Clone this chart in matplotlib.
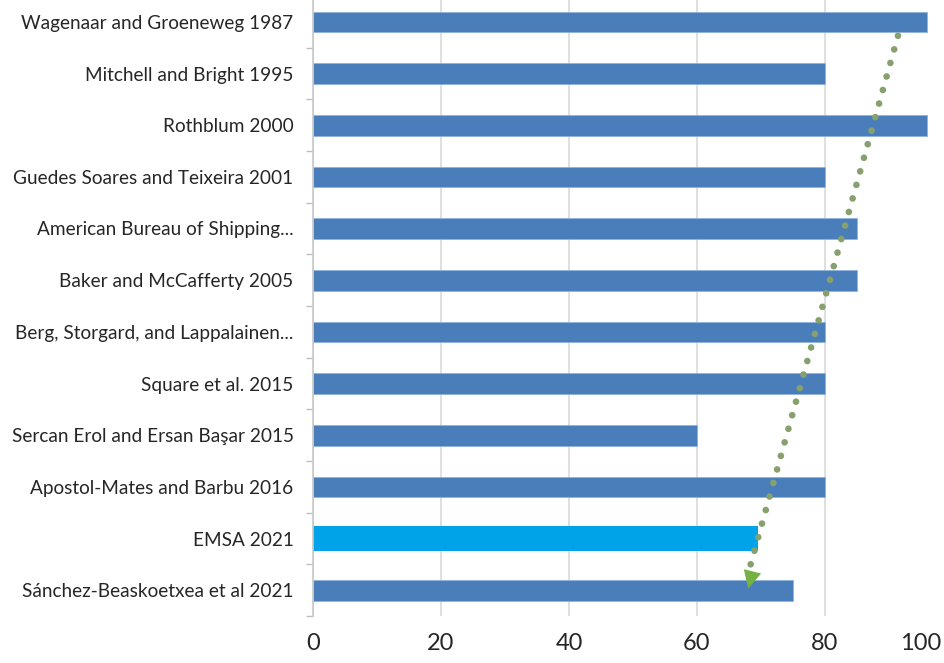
import numpy as np
import matplotlib
matplotlib.use("Agg")
import matplotlib.pyplot as plt
from matplotlib.ticker import FixedLocator
from matplotlib.transforms import ScaledTranslation

# studies, top to bottom
studies = [
    "Wagenaar and Groeneweg 1987",
    "Mitchell and Bright 1995",
    "Rothblum 2000",
    "Guedes Soares and Teixeira 2001",
    "American Bureau of Shipping...",
    "Baker and McCafferty 2005",
    "Berg, Storgard, and Lappalainen...",
    "Square et al. 2015",
    "Sercan Erol and Ersan Başar 2015",
    "Apostol-Mates and Barbu 2016",
    "EMSA 2021",
    "Sánchez-Beaskoetxea et al 2021",
]
# share of accidents put down to human error (%)
values = [96, 80, 96, 80, 85, 85, 80, 80, 60, 80, 69.5, 75]
highlight = "EMSA 2021"
xticks = [0, 20, 40, 60, 80, 100]

# trend arrow (x in %, y in rows)
arrow_start = (91.4, 0.27)
arrow_end = (68.0, 10.97)

plt.rcParams['font.family'] = ['Lato', 'DejaVu Sans']

fig = plt.figure(figsize=(9.44, 6.63), dpi=100)
ax = fig.add_axes([313 / 944, 47 / 663, 640 / 944, 620 / 663])

y = np.arange(len(studies))
base_col = '#4a7ebb'
hi_col = '#00a2e8'
for i, (name, v) in enumerate(zip(studies, values)):
    if name == highlight:
        ax.barh(i, v, height=0.48, color=hi_col, zorder=3)
    else:
        ax.barh(i, v, height=0.40, color=base_col, edgecolor='#8fb3e0',
                linewidth=0.6, zorder=3)

ax.set_xlim(0, 100)
ax.set_ylim(len(studies) - 0.5, -0.5)
ax.set_xticks(xticks)
ax.set_yticks(y)
ax.set_yticklabels(studies)
ax.yaxis.set_minor_locator(FixedLocator(np.arange(-0.5, len(studies), 1)))
ax.tick_params(axis='y', which='major', length=0, pad=14, labelsize=13.7,
               labelcolor='#262626')
ax.tick_params(axis='y', which='minor', length=5, color='#bfbfbf', width=1)
ax.tick_params(axis='x', length=0, pad=12, labelsize=17, labelcolor='#262626')

ax.grid(axis='x', color='#d9d9d9', linewidth=1.2, zorder=0)
for s in ['top', 'right', 'bottom']:
    ax.spines[s].set_visible(False)
ax.spines['left'].set_color('#c8c8c8')
ax.spines['left'].set_linewidth(1.2)
ax.spines['left'].set_zorder(4)

# last tick label sits inward, as in the source chart
lbl = ax.get_xticklabels()[-1]
lbl.set_transform(lbl.get_transform() + ScaledTranslation(-0.32, 0, fig.dpi_scale_trans))

# dotted trend arrow
ax.plot([arrow_start[0], arrow_end[0]], [arrow_start[1], arrow_end[1] - 0.3],
        linestyle=(0, (0.01, 2.1)), dash_capstyle='round', linewidth=4.8,
        color='#86a06e', zorder=5)
ax.annotate('', xy=arrow_end, xytext=(arrow_end[0] + 1.0, arrow_end[1] - 0.5),
            arrowprops=dict(arrowstyle='-|>', color='#74b244', lw=0,
                            mutation_scale=32, shrinkA=0, shrinkB=0),
            zorder=6)

fig.savefig('out.png', dpi=100)
